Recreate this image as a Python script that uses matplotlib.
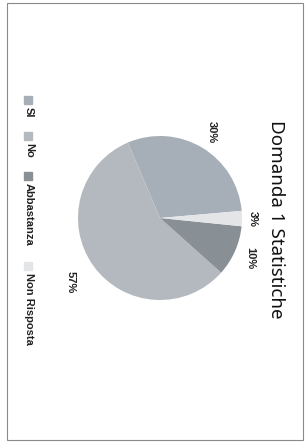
import matplotlib.pyplot as plt
from matplotlib.patches import Rectangle

# dati del grafico (scansione ruotata di 90 gradi)
categorie = ['SI', 'No', 'Abbastanza', 'Non Risposta']
percentuali = [30, 57, 10, 3]
etichette = ['30%', '57%', '10%', '3%']
colori = ['#a6afb7', '#b3b9be', '#888f95', '#e3e5e7']
titolo = 'Domanda 1 Statistiche'

W, H = 308, 443
fig = plt.figure(figsize=(W / 100, H / 100), dpi=100)
plt.rcParams['font.family'] = ['Noto Sans', 'DejaVu Sans']
bold_font = ['Liberation Sans', 'DejaVu Sans']

# cornice del grafico
fig.patches.append(Rectangle((7 / W, 1 - 440 / H), 296 / W, 437 / H, transform=fig.transFigure,
                             fill=False, edgecolor='#8a8a8a', lw=0.8))

# torta: centro (160, 218) px, raggio 82 px
cx, cy, r = 160, 218, 82
ax = fig.add_axes([(cx - r) / W, 1 - (cy + r) / H, 2 * r / W, 2 * r / H])
wedges, texts = ax.pie(percentuali, labels=etichette, colors=colori, startangle=5,
                       counterclock=True, labeldistance=1.0, radius=1,
                       wedgeprops=dict(linewidth=0))
dist = [1.22, 1.34, 1.2, 1.13]  # distanza delle etichette dal centro
for t, d in zip(texts, dist):
    x, y = t.get_position()
    t.set_position((x * d, y * d))
    t.set_rotation(-90)
    t.set_ha('center')
    t.set_va('center')
    t.set_family(bold_font)
    t.set_fontsize(8)
    t.set_fontweight('bold')
    t.set_color('#222222')
ax.set_xlim(-1, 1)
ax.set_ylim(-1, 1)
ax.axis('off')

# titolo (ruotato)
fig.text(276 / W, 1 - 219 / H, titolo, rotation=-90, ha='center', va='center',
         fontsize=13.5, color='#111111')

# legenda verticale ruotata
leg_y = [96, 132, 172, 262]
for y, nome, c in zip(leg_y, categorie, colori):
    fig.patches.append(Rectangle((24 / W, 1 - (y + 8) / H), 8 / W, 8 / H,
                                 transform=fig.transFigure, color=c))
    fig.text(29 / W, 1 - (y + 11) / H, nome, rotation=-90, ha='center', va='top',
             family=bold_font, fontsize=8, fontweight='bold', color='#222222')

fig.savefig('out.png', dpi=100)
